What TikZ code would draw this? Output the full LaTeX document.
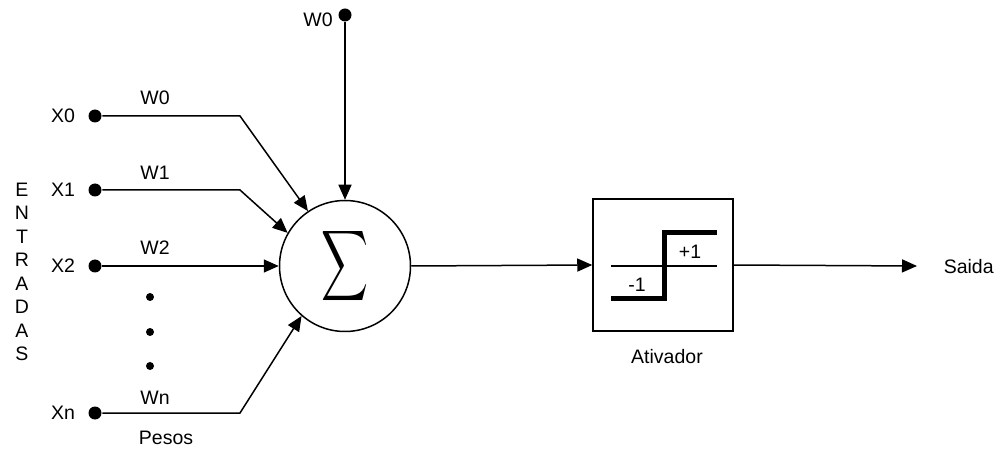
\documentclass[tikz,border=0pt]{standalone}
\usepackage{fontspec}
\setmainfont{Liberation Sans}
\usetikzlibrary{arrows.meta}
\begin{document}
\begin{tikzpicture}[x=1pt,y=-1pt,
  font=\fontsize{19.5}{23.5}\selectfont,
  line width=1.5pt,
  dot/.style={circle,fill=black,inner sep=0pt,minimum size=13pt},
  smalldot/.style={circle,fill=black,inner sep=0pt,minimum size=8pt},
  arr/.style={-{Triangle[length=15pt,width=13pt]}},
  lbl/.style={inner sep=0pt}]
\useasboundingbox (0,0) rectangle (1005,449);
% sum node
\node[draw,circle,minimum size=131pt,inner sep=0pt] (s) at (345,266)
  {\resizebox{47pt}{65pt}{$\displaystyle\sum$}};
% inputs
\node[dot] (x0) at (95,116) {};
\node[dot] (x1) at (95,190) {};
\node[dot] (x2) at (95,266) {};
\node[dot] (xn) at (95,413) {};
\node[dot] (wtop) at (345,15) {};
\node[lbl] (lx0) at (63,116) {X0};
\node[lbl] (lx1) at (63,190) {X1};
\node[lbl] (lx2) at (63,266) {X2};
\node[lbl] (lxn) at (63,413) {Xn};
\node[lbl] (lwtop) at (318,20) {W0};
\node[lbl] (w0) at (155,98) {W0};
\node[lbl] (w1) at (155,173) {W1};
\node[lbl] (w2) at (155,248) {W2};
\node[lbl] (wn) at (155,398) {Wn};
\node[lbl] (pesos) at (166,438) {Pesos};
\node[smalldot] (d1) at (150,297) {};
\node[smalldot] (d2) at (150,332) {};
\node[smalldot] (d3) at (150,366) {};
\node[lbl,align=center] (entr) at (22,272) {E\\N\\T\\R\\A\\D\\A\\S};
% connectors
\draw[arr] (x0) -- (240,116) -- (s.124);
\draw[arr] (x1) -- (240,190) -- (s.150);
\draw[arr] (x2) -- (s.west);
\draw[arr] (xn) -- (240,413) -- (s.229);
\draw[arr] (wtop) -- (s.north);
% activator
\node[draw,minimum width=140pt,minimum height=132pt,inner sep=0pt] (act) at (663,265) {};
\draw[line width=1.3pt] (611,266) -- (717,266);
\draw[line width=5pt] (611,299) -- (664,299) -- (664,233) -- (717,233);
\node[lbl] (m1) at (637,285) {-1};
\node[lbl] (p1) at (690,252) {+1};
\node[lbl] (ativ) at (667,357) {Ativador};
\draw[arr] (s.east) -- (act.west);
\coordinate (out) at (917,266);
\draw[arr] (act.east) -- (out);
\node[lbl,anchor=west] (saida) at (943,267) {Saida};
\end{tikzpicture}
\end{document}
